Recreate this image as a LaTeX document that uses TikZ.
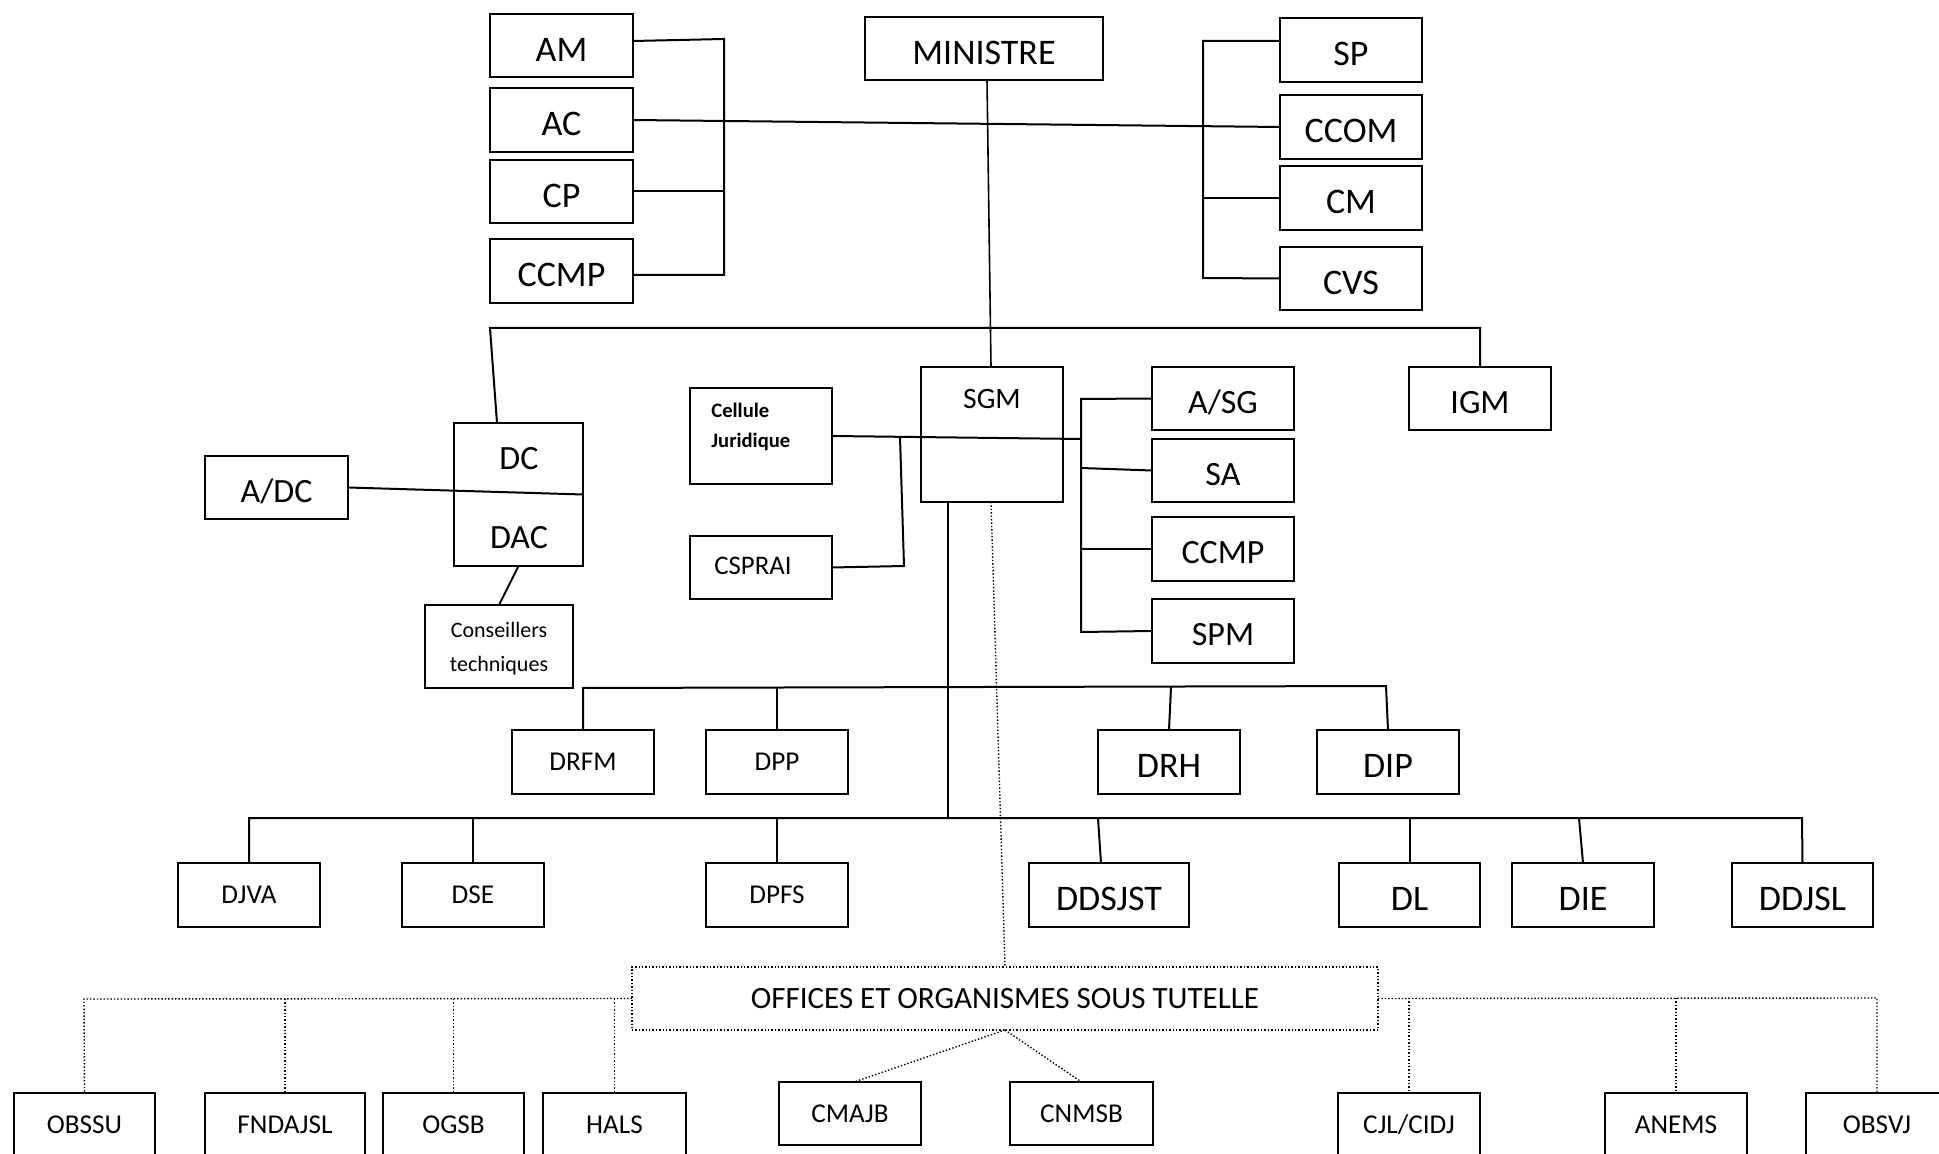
\documentclass[tikz,border=0pt]{standalone}
\usepackage{fontspec}
\setmainfont{Carlito}
\begin{document}
\begin{tikzpicture}[x=0.5pt,y=-0.5pt,
  box/.style={draw, line width=1.2pt, inner sep=0pt, outer sep=0pt, align=center},
  sz/.style 2 args={minimum width=#1*0.5pt, minimum height=#2*0.5pt},
  bigA/.style={font=\fontsize{18}{21}\selectfont, text height=15.6pt, text depth=0pt},
  bigB/.style={font=\fontsize{17}{20}\selectfont, text height=14.95pt, text depth=0pt},
  mid/.style={font=\fontsize{13.6}{16}\selectfont},
  conn/.style={line width=1pt},
  thinconn/.style={line width=0.8pt},
  dot/.style={line width=0.7pt, densely dotted},
  dotbox/.style={draw, line width=0.7pt, densely dotted, inner sep=0pt, outer sep=0pt}
]
\useasboundingbox (0,0) rectangle (1939,1154);
\clip (0,0) rectangle (1939,1154);

% top left group
\node[box,sz={143}{63},bigA] (AM) at (561.5,45.5) {AM};
\node[box,sz={143}{64},bigA] (AC) at (561.5,120) {AC};
\node[box,sz={143}{63},bigA] (CP) at (561.5,191.5) {CP};
\node[box,sz={143}{64},bigA] (CCMPa) at (561.5,271) {CCMP};
\node[box,sz={238}{63},bigA] (MIN) at (984,48.5) {MINISTRE};
% top right group
\node[box,sz={142}{64},bigA] (SP) at (1351,50) {SP};
\node[box,sz={142}{64},bigA] (CCOM) at (1351,127) {CCOM};
\node[box,sz={142}{64},bigA] (CM) at (1351,198) {CM};
\node[box,sz={142}{63},bigA] (CVS) at (1351,278.5) {CVS};

\node[box,sz={142}{63},bigB] (IGM) at (1480,398.5) {IGM};
% DC / DAC
\node[box,sz={129}{143}] (DC) at (518.5,494.5) {};
\node[font=\fontsize{17}{20}\selectfont] (DCt) at (519,459) {DC};
\node[font=\fontsize{17}{20}\selectfont] (DACt) at (519,537.5) {DAC};
\node[box,sz={143}{63},bigB] (ADC) at (276.5,487.5) {A/DC};
\node[box,sz={148}{83}] (CT) at (499,646.5) {};
\node[font=\fontsize{11}{17}\selectfont, align=center] (CTt) at (499,649) {Conseillers\\techniques};
% Cellule / CSPRAI
\node[box,sz={142}{96}] (CJ) at (761,436) {};
\node[anchor=north west, align=left, inner sep=0pt, font=\fontsize{10.3}{15}\selectfont\bfseries] (CJt) at (711,403) {Cellule\\Juridique};
\node[box,sz={142}{63}] (CS) at (761,567.5) {};
\node[font=\fontsize{13.4}{16}\selectfont] (CSt) at (753,566) {CSPRAI};
% SGM
\node[box,sz={142}{135}] (SGM) at (992,434.5) {};
\node[font=\fontsize{14.8}{17}\selectfont] (SGMt) at (992,399) {SGM};
\node[box,sz={142}{63},bigB] (ASG) at (1223,398.5) {A/SG};
\node[box,sz={142}{63},bigB] (SA) at (1223,470.5) {SA};
\node[box,sz={142}{64},bigB] (CCMPb) at (1223,549) {CCMP};
\node[box,sz={142}{64},bigB] (SPM) at (1223,631) {SPM};
% row 1
\node[box,sz={142}{64},mid] (DRFM) at (583,762) {DRFM};
\node[box,sz={142}{64},mid] (DPP) at (777,762) {DPP};
\node[box,sz={142}{64},bigA] (DRH) at (1169,762) {DRH};
\node[box,sz={142}{64},bigA] (DIP) at (1388,762) {DIP};
% row 2
\node[box,sz={142}{64},mid] (DJVA) at (249,895) {DJVA};
\node[box,sz={142}{64},mid] (DSE) at (473,895) {DSE};
\node[box,sz={142}{64},mid] (DPFS) at (777,895) {DPFS};
\node[box,sz={160}{64},bigA] (DDSJST) at (1109,895) {DDSJST};
\node[box,sz={141}{64},bigA] (DL) at (1409.5,895) {DL};
\node[box,sz={142}{64},bigA] (DIE) at (1583,895) {DIE};
\node[box,sz={141}{64},bigA] (DDJSL) at (1802.5,895) {DDJSL};
% offices
\node[dotbox,sz={746}{63},font=\fontsize{15.5}{18}\selectfont] (OFF) at (1005,998.5) {OFFICES ET ORGANISMES SOUS TUTELLE};
\node[box,sz={141}{64},mid] (OBSSU) at (84.5,1125) {OBSSU};
\node[box,sz={160}{64},mid] (FND) at (285,1125) {FNDAJSL};
\node[box,sz={141}{64},mid] (OGSB) at (453.5,1125) {OGSB};
\node[box,sz={143}{64},mid] (HALS) at (614.5,1125) {HALS};
\node[box,sz={142}{63},mid] (CMAJB) at (850,1113.5) {CMAJB};
\node[box,sz={143}{63},mid] (CNMSB) at (1081.5,1113.5) {CNMSB};
\node[box,sz={142}{64},mid] (CJL) at (1409,1125) {CJL/CIDJ};
\node[box,sz={142}{64},mid] (ANEMS) at (1676,1125) {ANEMS};
\node[box,sz={142}{64},mid] (OBSVJ) at (1877,1125) {OBSVJ};

% ---- connectors ----
\coordinate (lbT) at (724,39);
\coordinate (lbB) at (724,275);
\draw[conn] ([yshift=2.25pt]AM.east) -- (lbT) -- (lbB) -- ([yshift=-2pt]CCMPa.east);
\draw[conn] (CP.east) -- (CP.east -| lbT);
\draw[conn] (AC.east) -- (CCOM.west);

\coordinate (rbT) at (1203,41);
\coordinate (rbB) at (1203,278);
\draw[conn] ([yshift=4.5pt]SP.west) -- (rbT) -- (rbB) -- (CVS.west);
\draw[conn] (CM.west) -- (CM.west -| rbT);

\draw[thinconn] ([xshift=1.5pt]MIN.south) -- ([xshift=-0.5pt]SGM.north);

\coordinate (tbL) at (490,328);
\coordinate (tbR) at (1480,328);
\draw[conn] ([xshift=-10.75pt]DC.north) -- (tbL) -- (tbR) -- (IGM.north);
\draw[conn] (ADC.east) -- (DC.east);
\draw[conn] (DC.south) -- (CT.north);

\coordinate (cjR) at (1081,439);
\coordinate (cjJ) at (900,437);
\coordinate (cjB) at (904,566);
\draw[conn] (CJ.east) -- (cjR);
\draw[conn] (cjJ) -- (cjB) -- (CS.east);

\coordinate (sbT) at (1081,399);
\coordinate (sbB) at (1081,632);
\draw[conn] (ASG.west) -- (sbT) -- (sbB) -- (SPM.west);
\draw[conn] (SA.west) -- (1081,468);
\draw[conn] (CCMPb.west) -- (CCMPb.west -| sbT);

\coordinate (r2M) at (948,818);
\draw[conn] ([xshift=-22pt]SGM.south) -- (r2M);

\coordinate (r1L) at (583,688);
\coordinate (r1R) at (1386,686);
\draw[conn] (DRFM.north) -- (r1L) -- (r1R) -- (DIP.north);
\draw[conn] (DPP.north) -- (DPP.north |- r1L);
\draw[conn] (DRH.north) -- (1171,687);

\coordinate (r2L) at (249,818);
\coordinate (r2R) at (1802,818);
\draw[conn] (DJVA.north) -- (r2L) -- (r2R) -- (DDJSL.north);
\foreach \n in {DSE,DPFS,DL} \draw[conn] (\n.north) -- (\n.north |- r2L);
\draw[conn] ([xshift=-4pt]DDSJST.north) -- (1098,818);
\draw[conn] (DIE.north) -- (1579,818);

\draw[dot] ([xshift=-0.5pt]SGM.south) -- (OFF.north);
\coordinate (oL) at (84,999);
\coordinate (oR) at (1877,998);
\draw[dot] (OFF.west) -- (oL) -- (OBSSU.north);
\foreach \n in {FND,OGSB,HALS} \draw[dot] (\n.north |- oL) -- (\n.north);
\draw[dot] (OFF.east) -- (oR) -- (OBSVJ.north);
\foreach \n in {CJL,ANEMS} \draw[dot] (\n.north |- oR) -- (\n.north);
\draw[dot] (OFF.south) -- ([xshift=2pt]CMAJB.north);
\draw[dot] (OFF.south) -- (CNMSB.north);
\end{tikzpicture}
\end{document}
